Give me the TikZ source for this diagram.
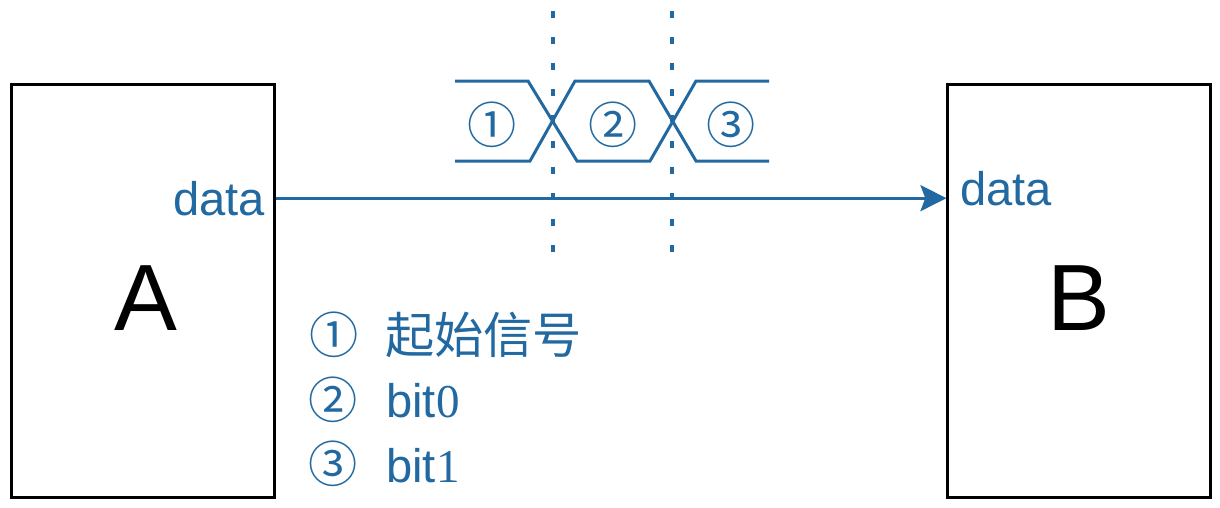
\documentclass[tikz,border=0pt]{standalone}
\usepackage{fontspec}
\setmainfont{Liberation Sans}
\newfontfamily\cjk{Noto Sans CJK SC}
\newfontfamily\digitfont{Liberation Serif}
\usetikzlibrary{arrows.meta}
\definecolor{sigblue}{RGB}{33,105,160}
\begin{document}
\begin{tikzpicture}[x=0.025cm, y=-0.025cm,
  box/.style={draw, line width=0.075cm, minimum width=6.55cm, minimum height=10.3cm, inner sep=0},
  big/.style={inner sep=0, anchor=base, font=\fontsize{67}{80}\selectfont},
  lbl/.style={text=sigblue, inner sep=0, font=\fontsize{33.5}{40}\selectfont},
  circ/.style={text=sigblue, inner sep=0, font=\cjk\fontsize{35}{40}\selectfont},
  wave/.style={sigblue, line width=0.075cm},
  tick/.style={sigblue, line width=0.09cm, dash pattern=on 0.175cm off 0.475cm}]
\useasboundingbox (0,0) rectangle (1220,507);
% the two chips
\node[box] (boxA) at (143,291) {};
\node[box] (boxB) at (1079,291) {};
\node[big] (nameA) at (146,330) {A};
\node[big] (nameB) at (1079,330) {B};
\node[lbl, anchor=base east] (dataA) at (265,215) {data};
\node[lbl, anchor=base west] (dataB) at (960,205) {data};
\draw[wave, -{Stealth[length=0.65cm, width=0.65cm, inset=0.12cm]}] (boxA.east |- dataA.center) -- (boxB.west |- dataA.center);
% timing of one frame
\foreach \x in {553,672}
  \draw[tick] (\x,11) -- (\x,255);
\draw[wave] (455,81) -- (528,81) -- (577,161) -- (650,161) -- (696,81) -- (769,81);
\draw[wave] (455,161) -- (530,161) -- (575,81) -- (649,81) -- (696,161) -- (769,161);
\node[circ] (w1) at (492,125) {①};
\node[circ] (w2) at (613,125) {②};
\node[circ] (w3) at (731,125) {③};
% legend
\node[circ] (k1) at (334,335) {①};
\node[circ] (k2) at (333,400) {②};
\node[circ] (k3) at (333,464) {③};
\node[circ, anchor=west] (t1) at (385,335) {起始信号};
\node[lbl, anchor=base west] (t2) at (386,417) {bit{\digitfont 0}};
\node[lbl, anchor=base west] (t3) at (386,482) {bit{\digitfont 1}};
\end{tikzpicture}
\end{document}
